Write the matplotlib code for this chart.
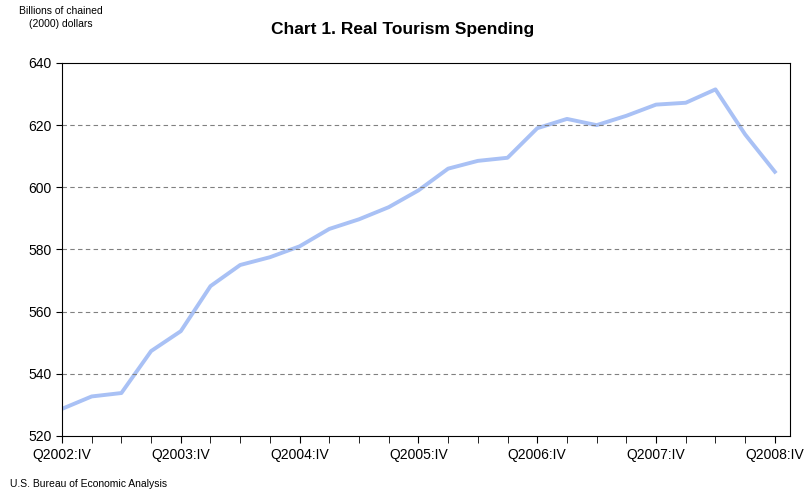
import matplotlib.pyplot as plt

quarters = ["Q2002:IV", "Q2003:I", "Q2003:II", "Q2003:III", "Q2003:IV", "Q2004:I", "Q2004:II",
            "Q2004:III", "Q2004:IV", "Q2005:I", "Q2005:II", "Q2005:III", "Q2005:IV", "Q2006:I",
            "Q2006:II", "Q2006:III", "Q2006:IV", "Q2007:I", "Q2007:II", "Q2007:III", "Q2007:IV",
            "Q2008:I", "Q2008:II", "Q2008:III", "Q2008:IV"]
spending = [528.7, 532.7, 533.8, 547.3, 553.7, 568.2, 575.0, 577.5, 581.0, 586.6, 589.7, 593.6,
            599.0, 606.0, 608.5, 609.5, 619.0, 622.0, 620.0, 623.0, 626.6, 627.2, 631.5, 617.0, 605.0]

fig = plt.figure(figsize=(8.05, 4.92), dpi=100)
ax = fig.add_axes([0.077, 0.114, 0.904, 0.758])
x = list(range(len(quarters)))
ax.plot(x, spending, color="#A9C1F5", linewidth=2.8)

ax.set_ylim(520, 640)
ax.set_yticks(range(520, 641, 20))
ax.set_xlim(0, 24.5)
ax.set_xticks(x[::4])
ax.set_xticklabels(quarters[::4])
ax.set_xticks(x, minor=True)
ax.tick_params(axis="x", which="both", direction="out", length=5, labelsize=10)
ax.tick_params(axis="y", direction="out", length=4, labelsize=10)
for v in range(540, 640, 20):
    ax.axhline(v, color="#808080", linestyle=(0, (4, 3)), linewidth=0.8)
for s in ax.spines.values():
    s.set_linewidth(0.8)

fig.text(0.5, 0.93, "Chart 1. Real Tourism Spending", ha="center", fontsize=12.5,
         fontweight="bold", family="Liberation Sans")
fig.text(0.075, 0.945, "Billions of chained\n(2000) dollars", ha="center", fontsize=7.5,
         family="Liberation Sans", linespacing=1.4)
fig.text(0.012, 0.01, "U.S. Bureau of Economic Analysis", fontsize=7.5, family="Liberation Sans")
for t in ax.get_xticklabels() + ax.get_yticklabels():
    t.set_family("Liberation Sans")

fig.savefig("out.png")
